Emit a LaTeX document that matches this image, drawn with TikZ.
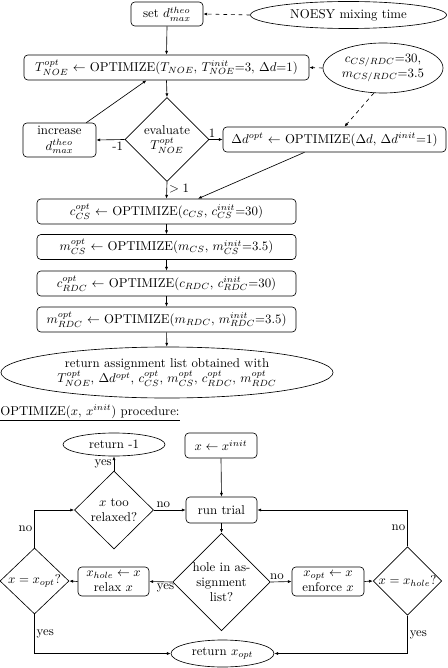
\documentclass[tikz,border=0pt]{standalone}
\usetikzlibrary{shapes.geometric,arrows.meta,calc}
\begin{document}
\begin{tikzpicture}[x=0.78pt,y=-0.78pt,
  >={Latex[length=3pt,width=2.4pt]},
  line width=0.5pt,
  rbox/.style={draw,rounded corners=3pt,inner sep=1pt,align=center},
  ell/.style={draw,ellipse,inner sep=0pt,align=center},
  dia/.style={draw,diamond,inner sep=0pt,align=center,shape aspect=1},
  lbl/.style={inner sep=1.5pt,font=\normalsize},
  dsh/.style={dashed,dash pattern=on 3pt off 3pt}]
\useasboundingbox (0,0) rectangle (447,668);
% top part
\node[rbox,minimum width=72*0.78pt,minimum height=24*0.78pt] (setd) at (167,14) {set $d^{theo}_{max}$};
\node[ell,minimum width=196*0.78pt,minimum height=27*0.78pt] (noesy) at (348.5,15) {NOESY mixing time};
\node[rbox,minimum width=285*0.78pt,minimum height=25*0.78pt] (tnoe) at (166.5,67.5) {$T^{opt}_{NOE}$ $\leftarrow$ OPTIMIZE($T_{NOE}$, $T^{init}_{NOE}$=3, $\Delta d$=1)};
\node[ell,minimum width=120*0.78pt,minimum height=50*0.78pt] (cparam) at (383,68) {$c_{CS/RDC}$=30,\\$m_{CS/RDC}$=3.5};
\node[dia,minimum width=84*0.78pt,minimum height=84*0.78pt] (eval) at (167,139.5) {evaluate\\$T^{opt}_{NOE}$};
\node[rbox,minimum width=73*0.78pt,minimum height=34*0.78pt] (incr) at (59.5,140) {increase\\$d^{theo}_{max}$};
\node[rbox,minimum width=223*0.78pt,minimum height=25*0.78pt] (dd) at (334.5,139.5) {$\Delta d^{opt}$ $\leftarrow$ OPTIMIZE($\Delta d$, $\Delta d^{init}$=1)};
\node[rbox,minimum width=259*0.78pt,minimum height=25*0.78pt] (ccs) at (166.5,211.5) {$c^{opt}_{CS}$ $\leftarrow$ OPTIMIZE($c_{CS}$, $c^{init}_{CS}$=30)};
\node[rbox,minimum width=259*0.78pt,minimum height=25*0.78pt] (mcs) at (166.5,247) {$m^{opt}_{CS}$ $\leftarrow$ OPTIMIZE($m_{CS}$, $m^{init}_{CS}$=3.5)};
\node[rbox,minimum width=259*0.78pt,minimum height=25*0.78pt] (crdc) at (166.5,283.5) {$c^{opt}_{RDC}$ $\leftarrow$ OPTIMIZE($c_{RDC}$, $c^{init}_{RDC}$=30)};
\node[rbox,minimum width=259*0.78pt,minimum height=25*0.78pt] (mrdc) at (166.5,319.5) {$m^{opt}_{RDC}$ $\leftarrow$ OPTIMIZE($m_{RDC}$, $m^{init}_{RDC}$=3.5)};
\node[ell,minimum width=332*0.78pt,minimum height=51*0.78pt] (ret) at (167,372.5) {return assignment list obtained with\\$T^{opt}_{NOE}$, $\Delta d^{opt}$, $c^{opt}_{CS}$, $m^{opt}_{CS}$, $c^{opt}_{RDC}$, $m^{opt}_{RDC}$};
% connectors top
\draw[->,dsh] (noesy.west) -- (setd.east);
\draw[->] (setd.south) -- (tnoe.north);
\draw[->,dsh] (cparam.west) -- (tnoe.east);
\draw[->,dsh] (cparam.250) -- ($(dd.north)+(10,0)$);
\draw[->] (tnoe.south) -- (eval.north);
\draw[->] (eval.west) -- node[lbl,below,pos=0.25]{-1} (incr.east);
\draw[->] ($(incr.north east)+(-10,0)$) -- ($(tnoe.south)+(-20,0)$);
\draw[->] (eval.east) -- node[lbl,above,pos=0.2]{1} (dd.west);
\draw[->] (eval.south) -- node[lbl,right,pos=0.4]{$>1$} (ccs.north);
\draw[->] ($(dd.south)+(-30,0)$) -- ($(ccs.north)+(31.5,0)$);
\draw[->] (ccs) -- (mcs);
\draw[->] (mcs) -- (crdc);
\draw[->] (crdc) -- (mrdc);
\draw[->] (mrdc) -- (ret);
% procedure
\node[anchor=west,inner sep=0pt] (title) at (0,413) {\underline{OPTIMIZE($x$, $x^{init}$) procedure:}};
\node[ell,minimum width=102*0.78pt,minimum height=23*0.78pt] (retm1) at (114,444.5) {return -1};
\node[rbox,minimum width=72*0.78pt,minimum height=25*0.78pt] (xinit) at (221,445.5) {$x \leftarrow x^{init}$};
\node[dia,minimum width=79*0.78pt,minimum height=78*0.78pt] (relaxq) at (114,510) {$x$ too\\relaxed?};
\node[rbox,minimum width=71*0.78pt,minimum height=26*0.78pt] (trial) at (221.5,510) {run trial};
\node[dia,minimum width=95*0.78pt,minimum height=96*0.78pt] (hole) at (221.5,582) {hole in as-\\signment\\list?};
\node[dia,minimum width=69*0.78pt,minimum height=66*0.78pt] (xopt) at (34.5,581) {$x = x_{opt}$?};
\node[rbox,minimum width=71*0.78pt,minimum height=29*0.78pt,inner sep=0pt] (relax) at (113.5,581.5) {$x_{hole} \leftarrow x$\\relax $x$};
\node[rbox,minimum width=72*0.78pt,minimum height=29*0.78pt,inner sep=0pt] (enforce) at (328,581.5) {$x_{opt} \leftarrow x$\\enforce $x$};
\node[dia,minimum width=67*0.78pt,minimum height=66*0.78pt] (xhole) at (407.5,581) {$x = x_{hole}$?};
\node[ell,minimum width=103*0.78pt,minimum height=27*0.78pt] (retx) at (222.5,653.5) {return $x_{opt}$};
% procedure connectors
\draw[->] (xinit.south) -- (trial.north);
\draw[->] (relaxq.north) -- node[lbl,left]{yes} (retm1.south);
\draw[->] (relaxq.east) -- node[lbl,above,pos=0.3]{no} (trial.west);
\draw[->] (xopt.north) |- node[lbl,left,pos=0.25]{no} (relaxq.west);
\draw[->] (xhole.north) |- node[lbl,left,pos=0.25]{no} (trial.east);
\draw[->] (trial.south) -- (hole.north);
\draw[->] (hole.west) -- node[lbl,below,pos=0.3]{yes} (relax.east);
\draw[->] (relax.west) -- (xopt.east);
\draw[->] (hole.east) -- node[lbl,above,pos=0.3]{no} (enforce.west);
\draw[->] (enforce.east) -- (xhole.west);
\draw[->] (xopt.south) |- node[lbl,right,pos=0.25]{yes} (retx.west);
\draw[->] (xhole.south) |- node[lbl,right,pos=0.25]{yes} (retx.east);
\end{tikzpicture}
\end{document}
